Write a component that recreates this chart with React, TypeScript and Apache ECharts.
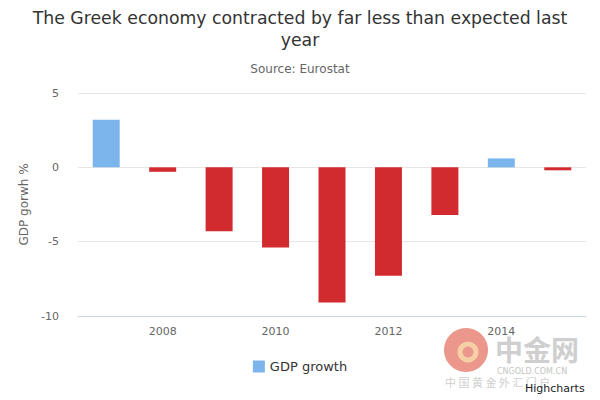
import React, { useEffect, useRef } from "react";
import * as echarts from "echarts";

const years = ["2007", "2008", "2009", "2010", "2011", "2012", "2013", "2014", "2015"];
const gdpGrowth = [3.2, -0.3, -4.3, -5.4, -9.1, -7.3, -3.2, 0.6, -0.2];
const yTicks = { min: -10, max: 5, interval: 5 };

const POS = "#7cb5ec";
const NEG = "#d22b2f";

export default function App() {
  const ref = useRef<HTMLDivElement>(null);
  useEffect(() => {
    document.body.style.margin = "0";
    const chart = echarts.init(ref.current!, null, { renderer: "svg" });
    const font = "'DejaVu Sans', sans-serif";
    const cjk = "'Noto Sans CJK SC', sans-serif";
    chart.setOption({
      animation: false,
      textStyle: { fontFamily: font },
      title: {
        text: "The Greek economy contracted by far less than expected last\nyear",
        subtext: "Source: Eurostat",
        left: "center",
        top: 2,
        itemGap: 12,
        textStyle: { fontSize: 17.3, fontWeight: "normal", color: "#333", lineHeight: 22, fontFamily: font },
        subtextStyle: { fontSize: 12, color: "#666", fontFamily: font },
      },
      legend: {
        bottom: 22,
        left: "center",
        icon: "rect",
        itemWidth: 12,
        itemHeight: 12,
        textStyle: { fontSize: 13, color: "#333", fontFamily: font },
        data: ["GDP growth"],
      },
      grid: { left: 78, right: 14, top: 93, bottom: 84, containLabel: false },
      xAxis: {
        type: "category",
        data: years,
        axisLine: { onZero: false, lineStyle: { color: "#ccd6eb" } },
        axisTick: {
          alignWithLabel: true,
          interval: (i: number) => i % 2 === 1,
          length: 8,
          lineStyle: { color: "#ccd6eb" },
        },
        axisLabel: {
          interval: (i: number) => i % 2 === 1,
          color: "#666",
          fontSize: 11,
          margin: 10,
          fontFamily: font,
        },
      },
      yAxis: {
        type: "value",
        min: yTicks.min,
        max: yTicks.max,
        interval: yTicks.interval,
        name: "GDP gorwh %",
        nameLocation: "middle",
        nameGap: 47,
        nameTextStyle: { color: "#666", fontSize: 12, fontFamily: font },
        axisLine: { show: false },
        axisTick: { show: false },
        axisLabel: { color: "#666", fontSize: 11, margin: 19, fontFamily: font },
        splitLine: { lineStyle: { color: "#e6e6e6" } },
      },
      series: [
        {
          name: "GDP growth",
          type: "bar",
          barWidth: 27,
          itemStyle: { color: POS },
          data: gdpGrowth.map((v) => ({ value: v, itemStyle: { color: v < 0 ? NEG : POS } })),
        },
      ],
      graphic: [
        { type: "circle", shape: { cx: 466, cy: 350, r: 22 }, style: { fill: "#e67d6e", opacity: 0.8 }, z: -1 },
        { type: "circle", shape: { cx: 468, cy: 352, r: 8 }, style: { fill: "none", stroke: "#f5cfa5", lineWidth: 5 }, z: -1 },
        { type: "text", x: 495, y: 335, style: { text: "中金网", fontSize: 28, fill: "#cfcfcf", fontFamily: cjk, fontWeight: "bold" }, z: -1 },
        { type: "text", x: 497, y: 367, style: { text: "CNGOLD.COM.CN", fontSize: 8, fill: "#c4c4c4", fontFamily: font }, z: -1 },
        { type: "text", x: 445, y: 376, style: { text: "中 国 黄 金 外 汇 门 户", fontSize: 11, fill: "#cfcfcf", fontFamily: cjk }, z: -1 },
        { type: "text", x: 525, y: 383, style: { text: "Highcharts", fontSize: 11, fill: "#222", fontFamily: font } },
      ],
    });
    return () => chart.dispose();
  }, []);
  return <div ref={ref} style={{ width: 600, height: 400 }} />;
}
